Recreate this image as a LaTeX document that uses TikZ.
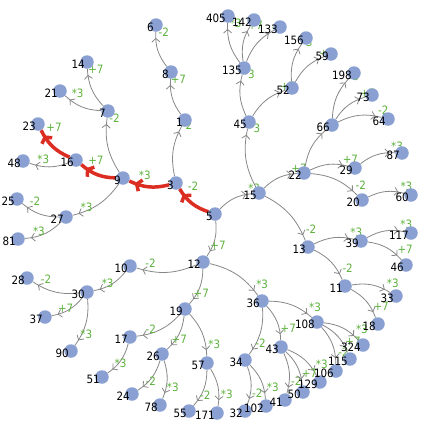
\documentclass[tikz,border=0pt]{standalone}
\usepackage{fontspec}
\setmainfont{DejaVu Sans Condensed}
\usetikzlibrary{arrows.meta,decorations.markings}
\pgfdeclarelayer{background}
\pgfsetlayers{background,main}
\definecolor{nodeblue}{RGB}{138,160,210}
\definecolor{opgreen}{RGB}{92,178,60}
\definecolor{edgegray}{RGB}{135,135,135}
\definecolor{hotred}{RGB}{220,45,35}
\begin{document}
\begin{tikzpicture}[x=1pt, y=-1pt, font=\fontsize{11.5}{13}\selectfont]
    % --- 样式定义 ---
    \tikzset{
        vert/.style={circle, fill=nodeblue, minimum size=13.5pt, inner sep=0pt},
        num/.style={anchor=east, inner sep=0pt},
        oplbl/.style={text=opgreen, inner sep=0pt},
        tedge/.style={draw=edgegray, line width=0.8pt, bend left=20,
            postaction={decorate, decoration={markings,
                mark=at position -6pt with {\arrow{Straight Barb[length=3.5pt, width=8pt]}%
                    \pgftransformresetnontranslations\node[oplbl] at (8pt,6pt) {#1};}}}},
        hotedge/.style={draw=hotred, line width=3.5pt, bend left=20,
            postaction={decorate, decoration={markings,
                mark=at position -6pt with {\arrow{Straight Barb[length=4pt, width=12pt]}%
                    \pgftransformresetnontranslations\node[oplbl] at (10pt,8pt) {#1};}}}}
    }
    \useasboundingbox (0,0) rectangle (429,429);

    % ====== 节点 (Nodes) ======
    \foreach \n/\x/\y in {5/215/214, 3/176/183, 15/259/193, 12/203/262,
        1/185/120, 9/123/178, 8/171/72, 6/156/25, 7/108/111, 27/66/217,
        16/76/160, 21/60/91, 14/87/62, 48/23/161, 23/38/124, 25/17/199,
        81/18/239, 10/130/266, 36/262/301, 19/185/309, 30/87/292, 28/27/278,
        90/71/351, 37/45/317, 17/130/337, 57/207/363, 26/162/354, 51/102/377,
        24/132/394, 78/160/405, 55/189/411, 171/217/413, 34/245/360,
        108/317/322, 43/281/347, 32/245/411, 102/266/406, 41/285/400,
        129/320/382, 50/303/392, 106/336/371, 324/363/345, 115/350/359,
        13/308/247, 45/249/122, 22/304/173, 11/345/286, 39/361/241,
        33/396/296, 18/378/324, 117/411/233, 46/406/265, 135/244/68,
        52/292/88, 133/280/27, 405/228/16, 142/254/20, 156/306/38,
        59/331/54, 20/362/200, 66/332/125, 29/355/168, 64/388/119,
        198/354/73, 73/372/95, 60/411/195, 87/402/153}
        \node[vert] (n\n) at (\x,\y) {};

    % ====== 边 (Edges) ======
    \begin{pgfonlayer}{background}
        % 普通边
        \foreach \a/\b/\o in {5/15/*3, 5/12/+7, 3/1/-2, 1/8/+7, 8/6/-2,
            9/7/-2, 9/27/*3, 7/21/*3, 7/14/+7, 16/48/*3, 27/25/-2, 27/81/*3,
            12/10/-2, 12/36/*3, 12/19/+7, 10/30/*3, 30/28/-2, 30/90/*3,
            30/37/+7, 19/17/-2, 19/57/*3, 19/26/+7, 17/51/*3, 26/24/-2,
            26/78/*3, 57/55/-2, 57/171/*3, 36/34/-2, 36/108/*3, 36/43/+7,
            34/32/-2, 34/102/*3, 43/41/-2, 43/129/*3, 43/50/+7, 108/106/-2,
            108/324/*3, 108/115/+7, 15/13/-2, 15/45/*3, 15/22/+7, 13/11/-2,
            13/39/*3, 11/33/*3, 11/18/+7, 39/117/*3, 39/46/+7, 45/135/*3,
            45/52/+7, 135/133/-2, 135/405/*3, 135/142/+7, 52/156/*3,
            52/59/+7, 22/20/-2, 22/66/*3, 22/29/+7, 66/64/-2, 66/198/*3,
            66/73/+7, 20/60/*3, 29/87/*3}
            \draw[tedge=\o] (n\a) to (n\b);
        % 红色路径 5 -> 23
        \foreach \a/\b/\o in {5/3/-2, 3/9/*3, 9/16/+7, 16/23/+7}
            \draw[hotedge=\o] (n\a) to (n\b);
    \end{pgfonlayer}

    % ====== 标签 (Labels) ======
    \foreach \n in {5, 3, 15, 12, 1, 9, 8, 6, 7, 27, 16, 21, 14, 48, 23, 25,
        81, 10, 36, 19, 30, 28, 90, 37, 17, 57, 26, 51, 24, 78, 55, 171, 34,
        108, 43, 32, 102, 41, 129, 50, 106, 324, 115, 13, 45, 22, 11, 39, 33,
        18, 117, 46, 135, 52, 133, 405, 142, 156, 59, 20, 66, 29, 64, 198,
        73, 60, 87}
        \node[num] at ([xshift=-2pt, yshift=-2.5pt]n\n.center) {\n};
\end{tikzpicture}
\end{document}
